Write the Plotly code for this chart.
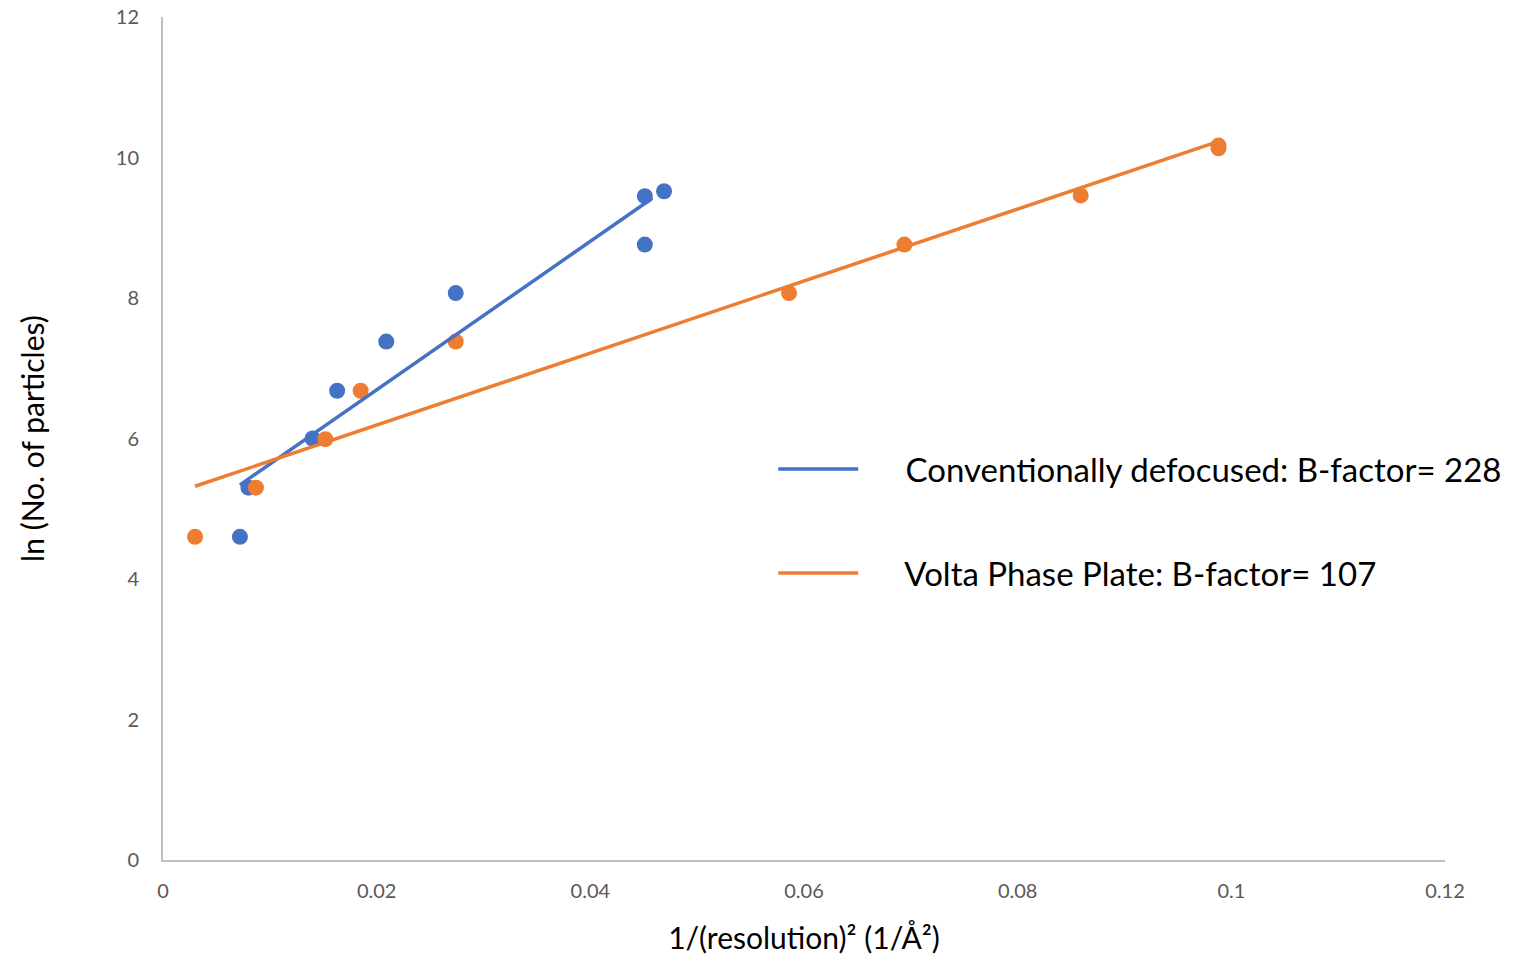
import plotly.graph_objects as go

# ---- data ----
blue_x = [0.0072, 0.0080, 0.0140, 0.0163, 0.0209, 0.0274, 0.0451, 0.0451, 0.0469]
blue_y = [4.60, 5.30, 6.00, 6.68, 7.38, 8.07, 9.45, 8.76, 9.52]

orange_x = [0.0030, 0.0087, 0.0152, 0.0185, 0.0274, 0.0586, 0.0694, 0.0859, 0.0988, 0.0988]
orange_y = [4.60, 5.30, 5.99, 6.68, 7.38, 8.07, 8.76, 9.46, 10.13, 10.17]

# trendlines as drawn in the reference (end points)
blue_trend_x = [0.0072, 0.0458]
blue_trend_y = [5.34, 9.42]
orange_trend_x = [0.0030, 0.0988]
orange_trend_y = [5.32, 10.23]

blue_name = "Conventionally defocused: B-factor= 228"
orange_name = "Volta Phase Plate: B-factor= 107"

x_ticks = [0, 0.02, 0.04, 0.06, 0.08, 0.1, 0.12]
x_tick_text = ["0", "0.02", "0.04", "0.06", "0.08", "0.1", "0.12"]
y_ticks = [0, 2, 4, 6, 8, 10, 12]

BLUE = "#4472C4"
ORANGE = "#ED7D31"
FONT = "Lato"
PAD = "\u00a0" * 5

fig = go.Figure()

fig.add_trace(go.Scatter(x=blue_x, y=blue_y, mode="markers",
                         marker=dict(color=BLUE, size=16), showlegend=False,
                         hoverinfo="x+y"))
fig.add_trace(go.Scatter(x=orange_x, y=orange_y, mode="markers",
                         marker=dict(color=ORANGE, size=16), showlegend=False,
                         hoverinfo="x+y"))
fig.add_trace(go.Scatter(x=blue_trend_x, y=blue_trend_y, mode="lines",
                         line=dict(color=BLUE, width=3.5), name=PAD + blue_name,
                         legendgroup="a"))
fig.add_trace(go.Scatter(x=orange_trend_x, y=orange_trend_y, mode="lines",
                         line=dict(color=ORANGE, width=3.5), name=PAD + orange_name,
                         legendgroup="b"))

fig.update_layout(
    width=1529, height=957,
    margin=dict(l=163, r=84, t=17, b=97, autoexpand=False),
    paper_bgcolor="white", plot_bgcolor="white",
    font=dict(family=FONT, color="#595959", size=20),
    legend=dict(x=0.476, y=0.402, xanchor="left", yanchor="middle",
                font=dict(family=FONT, size=33, color="black"),
                itemwidth=80, tracegroupgap=58, traceorder="grouped",
                bgcolor="rgba(0,0,0,0)"),
    xaxis=dict(range=[0, 0.12], tickvals=x_ticks, ticktext=x_tick_text,
               showgrid=False, zeroline=False, showline=True,
               linecolor="#BFBFBF", linewidth=2, ticks="",
               ticklabelstandoff=12, automargin=False,
               ticklabeloverflow="allow",
               title=dict(text="1/(resolution)² (1/Å²)",
                          font=dict(family=FONT, size=30, color="black"),
                          standoff=27)),
    yaxis=dict(range=[0, 12], tickvals=y_ticks,
               showgrid=False, zeroline=False, showline=True,
               linecolor="#BFBFBF", linewidth=2, ticks="",
               ticklabelstandoff=18, automargin=False,
               ticklabeloverflow="allow",
               title=dict(text="ln (No. of particles)",
                          font=dict(family=FONT, size=30, color="black"),
                          standoff=62)),
)

fig.write_html("out.html",
               config={"displayModeBar": False},
               post_script="document.body.style.margin='0';document.body.style.overflow='hidden';")
